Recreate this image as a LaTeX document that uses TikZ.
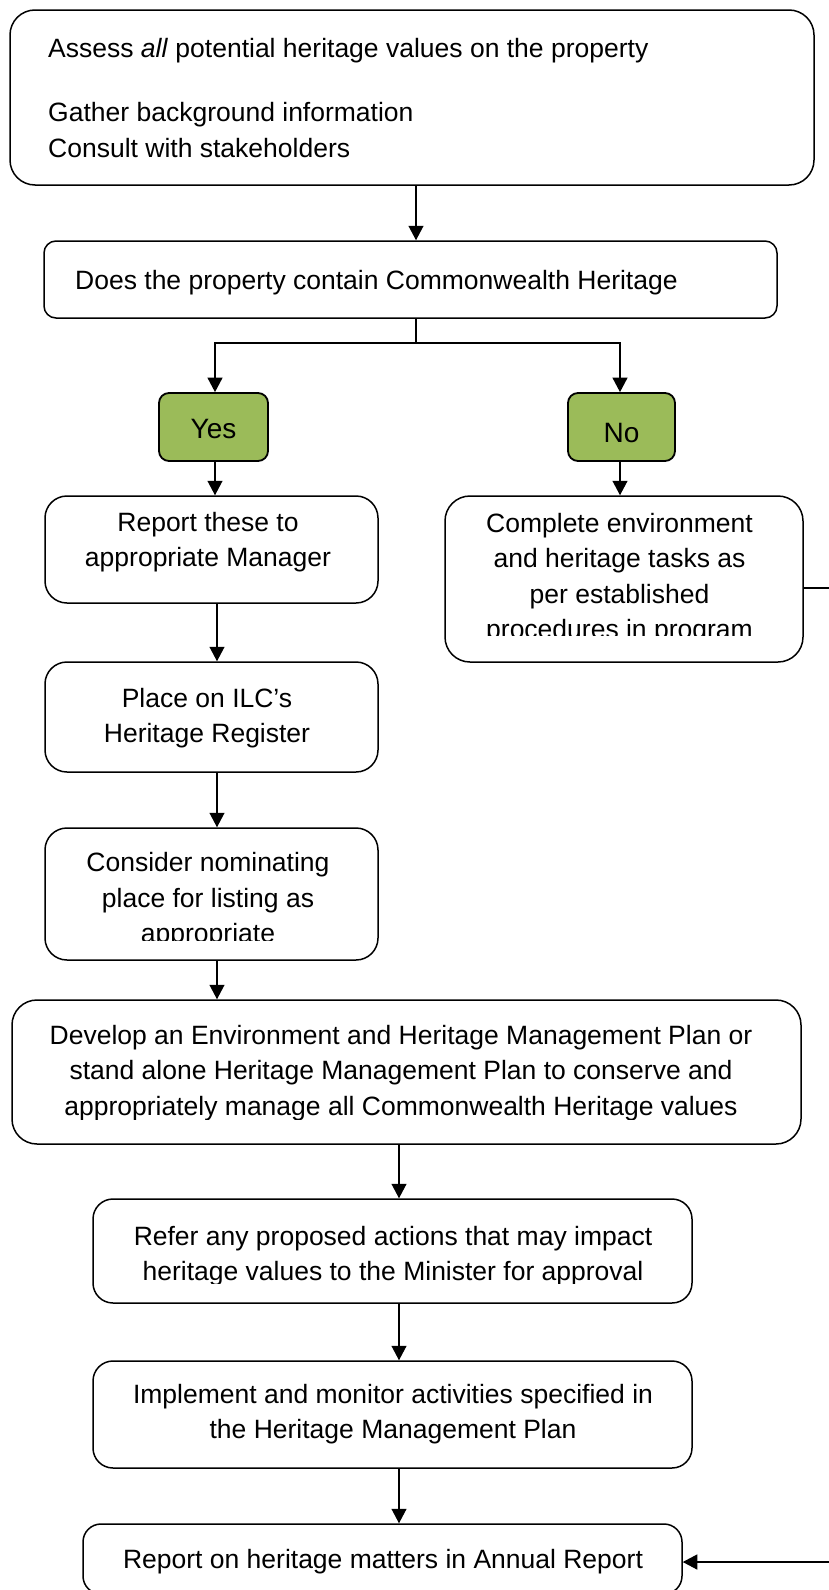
\documentclass[tikz,border=0pt]{standalone}
\usepackage{fontspec}
\setmainfont{Liberation Sans}
\usetikzlibrary{arrows.meta}
\definecolor{boxgreen}{HTML}{9BBB59}
\begin{document}
\begin{tikzpicture}[x=1pt,y=-1pt,
  flowbox/.style={draw=black, line width=1.5pt, rounded corners=#1, inner sep=0pt},
  flowbox/.default=22pt,
  txt/.style={inner sep=0pt, font=\fontsize{26.5}{35.5}\selectfont},
  yn/.style={inner sep=0pt, font=\fontsize{28}{33}\selectfont},
  conn/.style={draw=black, line width=1.3pt},
  arr/.style={conn, -{Triangle[length=14.5pt,width=15pt]}}]
\useasboundingbox (0,0) rectangle (828,1590);
\fill[white] (0,0) rectangle (828,1590);

% columns
\coordinate (cM) at (416,0);
\coordinate (cL) at (217,0);
\coordinate (cR) at (620,0);
\coordinate (cB) at (399,0);

% boxes
\node[flowbox=25pt, minimum width=804pt, minimum height=175pt] (top) at (412,97.5) {};
\node[flowbox=12pt, minimum width=733pt, minimum height=77pt] (q) at (410.5,279.5) {};
\node[flowbox=10pt, line width=1.8pt, fill=boxgreen, minimum width=109pt, minimum height=68pt] (yes) at (213.5,427) {};
\node[flowbox=10pt, line width=1.8pt, fill=boxgreen, minimum width=107pt, minimum height=68pt] (no) at (621.5,427) {};
\node[flowbox, minimum width=333pt, minimum height=107pt] (rep) at (211.5,549.5) {};
\node[flowbox=25pt, minimum width=358pt, minimum height=166pt] (comp) at (624,579) {};
\node[flowbox, minimum width=333pt, minimum height=110pt] (place) at (211.5,717) {};
\node[flowbox, minimum width=333pt, minimum height=132pt] (cons) at (211.5,894) {};
\node[flowbox=25pt, minimum width=789pt, minimum height=144pt] (dev) at (406.5,1072) {};
\node[flowbox=20pt, minimum width=599pt, minimum height=104pt] (ref) at (392.5,1251) {};
\node[flowbox=20pt, minimum width=599pt, minimum height=107pt] (imp) at (392.5,1414.5) {};
\node[flowbox=18pt, minimum width=599pt, minimum height=70pt] (bot) at (382.5,1559) {};

% texts
\node[txt, anchor=base west] (ttop) at (48,57.5) {\parbox[t]{760pt}{\raggedright Assess \textit{all} potential heritage values on the property\\[28.5pt]Gather background information\\Consult with stakeholders}};
\node[txt, anchor=base west] (tq) at (75,289) {Does the property contain Commonwealth Heritage};
\node[yn, anchor=base] (tyes) at (213.5,438) {Yes};
\node[yn, anchor=base] (tno) at (621.5,442) {No};
\node[txt, anchor=base] (trep) at (208,531) {\parbox[t]{320pt}{\centering Report these to\\appropriate Manager}};
\begin{scope}
\clip (445,496) rectangle (803,635);
\node[txt, anchor=base] (tcomp) at (619.5,532) {\parbox[t]{350pt}{\centering Complete environment\\and heritage tasks as\\per established\\procedures in program}};
\end{scope}
\node[txt, anchor=base] (tplace) at (207,707) {\parbox[t]{320pt}{\centering Place on ILC’s\\Heritage Register}};
\begin{scope}
\clip (45,828) rectangle (378,940);
\node[txt, anchor=base] (tcons) at (208,871.5) {\parbox[t]{320pt}{\centering Consider nominating\\place for listing as\\appropriate}};
\end{scope}
\begin{scope}
\clip (12,1000) rectangle (801,1119);
\node[txt, anchor=base] (tdev) at (401,1044) {\parbox[t]{780pt}{\centering Develop an Environment and Heritage Management Plan or\\stand alone Heritage Management Plan to conserve and\\appropriately manage all Commonwealth Heritage values}};
\end{scope}
\begin{scope}
\clip (93,1199) rectangle (692,1283);
\node[txt, anchor=base] (tref) at (393,1245) {\parbox[t]{590pt}{\centering Refer any proposed actions that may impact\\heritage values to the Minister for approval}};
\end{scope}
\node[txt, anchor=base] (timp) at (393,1403) {\parbox[t]{590pt}{\centering Implement and monitor activities specified in\\the Heritage Management Plan}};
\node[txt, anchor=base] (tbot) at (383,1568) {Report on heritage matters in Annual Report};

% connectors
\coordinate (jn) at (416,343);
\coordinate (jl) at (215,343);
\coordinate (jr) at (620,343);
\coordinate (rt) at (840,588);
\coordinate (rb) at (840,1562);
\draw[arr] (top.south -| cM) -- (q.north -| cM);
\draw[conn] (q.south -| cM) -- (jn);
\draw[arr] (jn) -- (jl) -- (yes.north -| jl);
\draw[arr] (jn) -- (jr) -- (no.north -| jr);
\draw[arr] (yes.south -| jl) -- (rep.north -| jl);
\draw[arr] (no.south -| jr) -- (comp.north -| jr);
\draw[arr] (rep.south -| cL) -- (place.north -| cL);
\draw[arr] (place.south -| cL) -- (cons.north -| cL);
\draw[arr] (cons.south -| cL) -- (dev.north -| cL);
\draw[arr] (dev.south -| cB) -- (ref.north -| cB);
\draw[arr] (ref.south -| cB) -- (imp.north -| cB);
\draw[arr] (imp.south -| cB) -- (bot.north -| cB);
\draw[arr] (comp.east |- rt) -- (rt) -- (rb) -- (bot.east |- rb);
\end{tikzpicture}
\end{document}
